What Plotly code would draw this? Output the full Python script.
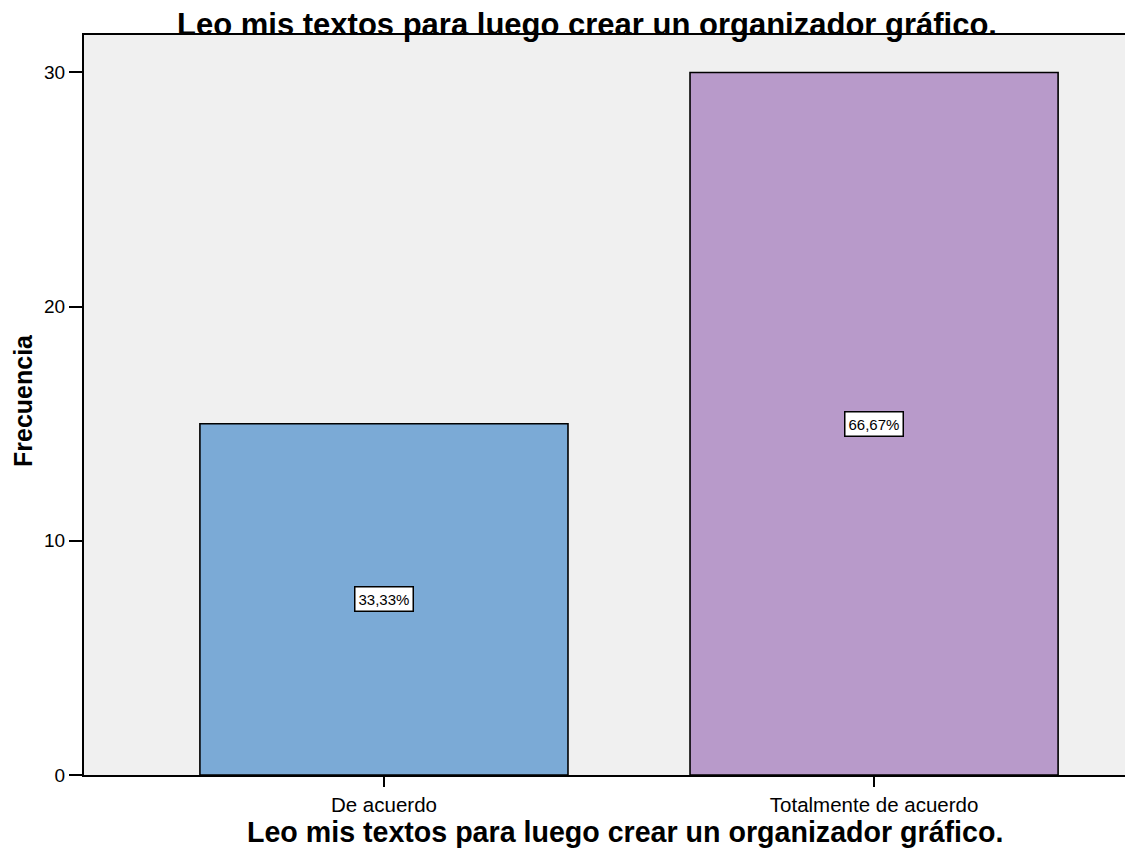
import plotly.graph_objects as go

# Data
categories = ["De acuerdo", "Totalmente de acuerdo"]
frequencies = [15, 30]
bar_colors = ["#7BAAD6", "#B89ACA"]
y_tickvals = [0, 10, 20, 30]
title_text = "Leo mis textos para luego crear un organizador gráfico."
y_title_text = "Frecuencia"

total = sum(frequencies)
pct_labels = [f"{100 * v / total:.2f}%".replace(".", ",") for v in frequencies]
xpos = list(range(len(categories)))

FONT = "Liberation Sans, Arial, sans-serif"

fig = go.Figure()
fig.add_trace(go.Bar(
    x=xpos,
    y=frequencies,
    width=0.751,
    marker=dict(color=bar_colors, line=dict(color="black", width=1.6)),
    hoverinfo="skip",
))

annotations = []
for xp, v, lab in zip(xpos, frequencies, pct_labels):
    annotations.append(dict(
        x=xp, y=v / 2, xref="x", yref="y", text=lab, showarrow=False,
        font=dict(family=FONT, size=15, color="black"),
        bgcolor="white", bordercolor="black", borderwidth=1.5, borderpad=3,
    ))

# Chart title
annotations.append(dict(
    x=0.4832, y=1, xref="paper", yref="paper", yanchor="middle", xanchor="center",
    yshift=11, text=f"<b>{title_text}</b>", showarrow=False,
    font=dict(family=FONT, size=31, color="black"),
))
# X axis title
annotations.append(dict(
    x=0.5197, y=0, xref="paper", yref="paper", yanchor="middle", xanchor="center",
    yshift=-57, text=f"<b>{title_text}</b>", showarrow=False,
    font=dict(family=FONT, size=28.6, color="black"),
))
# Y axis title
annotations.append(dict(
    x=0, y=0.5054, xref="paper", yref="paper", yanchor="middle", xanchor="center",
    xshift=-61, textangle=-90, text=f"<b>{y_title_text}</b>", showarrow=False,
    font=dict(family=FONT, size=25, color="black"),
))

fig.update_layout(
    width=1125, height=850,
    margin=dict(l=84, r=0, t=35, b=75),
    paper_bgcolor="white",
    plot_bgcolor="#F0F0F0",
    showlegend=False,
    annotations=annotations,
    font=dict(family=FONT, color="black"),
    xaxis=dict(
        range=[-0.612, 1.512],
        tickmode="array", tickvals=xpos, ticktext=categories,
        ticks="outside", ticklen=10, tickwidth=2, tickcolor="black",
        showline=True, linecolor="black", linewidth=2, mirror=True,
        showgrid=False, zeroline=False,
        tickfont=dict(family=FONT, size=20.5, color="black"),
    ),
    yaxis=dict(
        range=[0, 31.6],
        tickmode="array", tickvals=y_tickvals,
        ticks="outside", ticklen=13, tickwidth=2, tickcolor="black",
        showline=True, linecolor="black", linewidth=2,
        showgrid=False, zeroline=False,
        tickfont=dict(family=FONT, size=19, color="black"),
    ),
)

fig.write_html(
    "out.html",
    config={"displayModeBar": False},
    post_script="document.body.style.margin='0';document.body.style.overflow='hidden';",
)
